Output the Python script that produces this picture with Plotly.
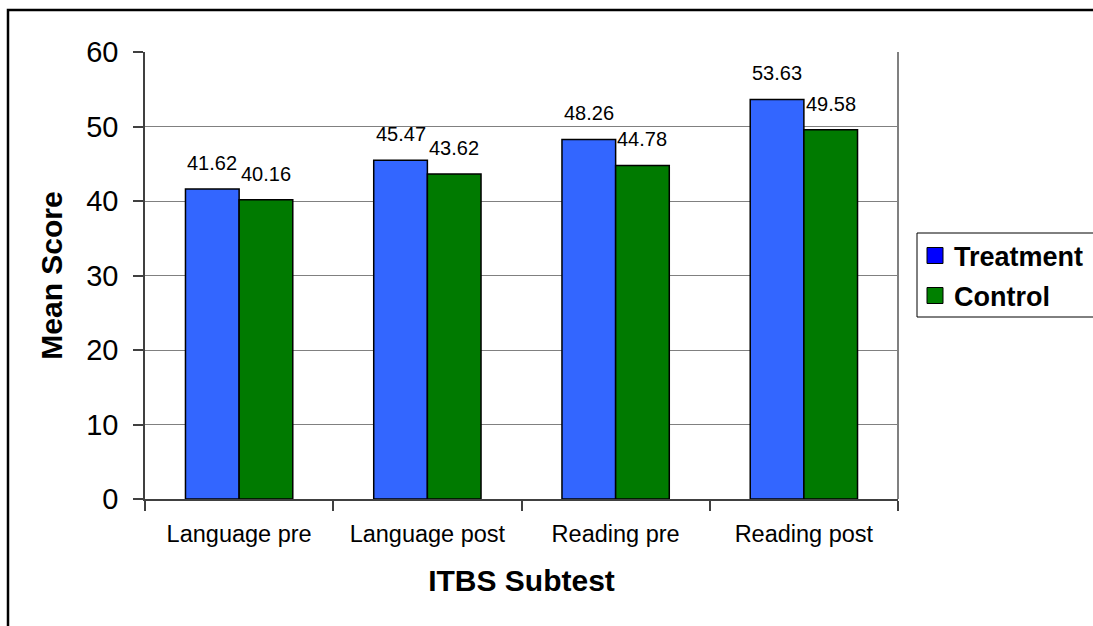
import plotly.graph_objects as go

# ITBS subtest mean scores by group
subtests = ["Language pre", "Language post", "Reading pre", "Reading post"]
treatment = [41.62, 45.47, 48.26, 53.63]
control = [40.16, 43.62, 44.78, 49.58]
series_names = ["Treatment", "Control"]
y_ticks = [0, 10, 20, 30, 40, 50, 60]

FONT = "Liberation Sans, Arial, sans-serif"
W, H = 1093, 626
ML, MR, MT, MB = 145, 195, 52, 127
PW, PH = W - ML - MR, H - MT - MB

BAR_COLORS = ["#3366FF", "#007A00"]
SWATCH_COLORS = ["#0000FF", "#008000"]


def px(x):
    return (x - ML) / PW


def py(y):
    return (H - MB - y) / PH


fig = go.Figure()
for name, vals, col in zip(series_names, [treatment, control], BAR_COLORS):
    fig.add_trace(go.Bar(
        x=subtests, y=vals, name=name,
        marker=dict(color=col, line=dict(color="black", width=1.5)),
        showlegend=False,
    ))

# value labels above each bar
half = PW / len(subtests) * (1 - 0.43) / 4
for vals, shift in [(treatment, -half), (control, half)]:
    for cat, v in zip(subtests, vals):
        fig.add_annotation(
            x=cat, y=v, text=f"{v:.2f}", showarrow=False,
            xshift=shift, yshift=13, yanchor="bottom",
            font=dict(family=FONT, size=20, color="black"),
        )

shapes = []
# outer frame
shapes.append(dict(type="rect", xref="paper", yref="paper",
                   x0=px(8), x1=px(1110), y0=py(10), y1=py(640),
                   line=dict(color="black", width=2.5), layer="above"))
# legend box
shapes.append(dict(type="rect", xref="paper", yref="paper",
                   x0=px(917), x1=px(1110), y0=py(317), y1=py(233),
                   line=dict(color="black", width=1), fillcolor="white"))
for i, (name, col) in enumerate(zip(series_names, SWATCH_COLORS)):
    cy = 255.5 + 40 * i
    shapes.append(dict(type="rect", xref="paper", yref="paper",
                       x0=px(927), x1=px(943), y0=py(cy + 8), y1=py(cy - 8),
                       fillcolor=col, line=dict(color="black", width=1)))
    fig.add_annotation(xref="paper", yref="paper", x=px(952), y=py(cy + 1),
                       text=f"<b>{name}</b>", showarrow=False,
                       xanchor="left", yanchor="middle",
                       font=dict(family=FONT, size=27, color="black"))

fig.update_layout(
    width=W, height=H,
    margin=dict(l=ML, r=MR, t=MT, b=MB, autoexpand=False),
    paper_bgcolor="white", plot_bgcolor="white",
    barmode="group", bargap=0.43, bargroupgap=0,
    shapes=shapes,
    font=dict(family=FONT, color="black"),
    xaxis=dict(
        type="category", tickson="boundaries", ticks="outside", ticklen=10,
        tickcolor="#404040", tickwidth=1.5,
        showline=True, linecolor="#404040", linewidth=1.5,
        mirror=False, showgrid=False,
        tickfont=dict(family=FONT, size=23.5, color="black"),
        ticklabelstandoff=13,
        title=dict(text="<b>ITBS Subtest</b>", standoff=24,
                   font=dict(family=FONT, size=30, color="black")),
    ),
    yaxis=dict(
        range=[0, 60], tickvals=y_ticks, ticks="outside", ticklen=10,
        tickcolor="#404040", tickwidth=1.5,
        showline=True, linecolor="#404040", linewidth=1.5,
        showgrid=True, gridcolor="#808080", gridwidth=1,
        zeroline=False,
        tickfont=dict(family=FONT, size=29, color="black"),
        ticklabelstandoff=9,
        title=dict(text="<b>Mean Score</b>", standoff=15,
                   font=dict(family=FONT, size=30, color="black")),
    ),
)
# right border of the plotting area
fig.add_shape(type="line", xref="paper", yref="paper", x0=1, x1=1, y0=0, y1=1,
              line=dict(color="#808080", width=2))

fig.write_html("out.html")
